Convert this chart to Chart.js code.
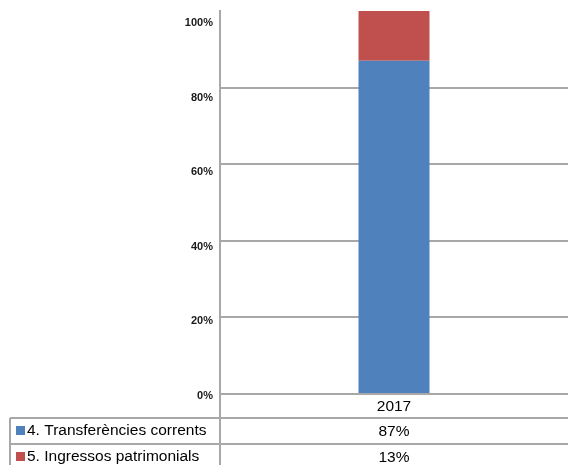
<!DOCTYPE html>
<html>
<head>
<meta charset="utf-8">
<script src="https://cdn.jsdelivr.net/npm/chart.js@4/dist/chart.umd.min.js"></script>
<style>
  html, body { margin: 0; padding: 0; background: #fff; }
  #wrap { width: 568px; height: 465px; }
</style>
</head>
<body>
<div id="wrap"><canvas id="ingressosChart" width="568" height="465"></canvas></div>
<script>
// years on the x axis
const years = ['2017'];
// share of income per chapter (%)
const transferencies = [87];
const patrimonials = [13];
const seriesNames = ['4. Transferències corrents', '5. Ingressos patrimonials'];
const yTicks = [0, 20, 40, 60, 80, 100];

const gridColor = '#a8a8a8';
const tableFont = '15.5px "Liberation Sans", Arial, sans-serif';

// data table under the plot: year header + one row per series with its colour key
const dataTable = {
  id: 'dataTable',
  afterDraw(chart) {
    const ctx = chart.ctx;
    const area = chart.chartArea;
    const xScale = chart.scales.x;
    const tableLeft = 10;
    const headerH = 24;
    const rowH = 26;
    const top = area.bottom;

    ctx.save();
    ctx.strokeStyle = gridColor;
    ctx.lineWidth = 2;
    ctx.font = tableFont;
    ctx.fillStyle = '#000';
    ctx.textBaseline = 'middle';

    // header row
    ctx.beginPath();
    ctx.moveTo(area.left, top);
    ctx.lineTo(area.right, top);
    ctx.moveTo(area.left, top);
    ctx.lineTo(area.left, chart.height);
    ctx.stroke();
    ctx.textAlign = 'center';
    chart.data.labels.forEach((lab, i) => {
      ctx.fillText(lab, xScale.getPixelForValue(i), top + headerH / 2 + 1);
    });

    chart.data.datasets.forEach((ds, r) => {
      const y0 = top + headerH + r * rowH;
      ctx.beginPath();
      ctx.moveTo(tableLeft, y0);
      ctx.lineTo(area.right, y0);
      ctx.moveTo(tableLeft, y0);
      ctx.lineTo(tableLeft, y0 + rowH);
      ctx.stroke();

      ctx.fillStyle = ds.backgroundColor;
      ctx.fillRect(16, y0 + rowH / 2 - 5, 9, 9);
      ctx.fillStyle = '#000';
      ctx.textAlign = 'left';
      ctx.fillText(ds.label, 27, y0 + rowH / 2);

      ctx.textAlign = 'center';
      ds.data.forEach((v, i) => {
        ctx.fillText(v + '%', xScale.getPixelForValue(i), y0 + rowH / 2 + 1);
      });
    });
    ctx.restore();
  }
};

new Chart(document.getElementById('ingressosChart'), {
  type: 'bar',
  data: {
    labels: years,
    datasets: [
      { label: seriesNames[0], data: transferencies, backgroundColor: '#4f81bd', yAxisID: 'y' },
      { label: seriesNames[1], data: patrimonials, backgroundColor: '#c0504d', yAxisID: 'y' }
    ]
  },
  options: {
    responsive: false,
    animation: false,
    layout: { padding: { top: 11, bottom: 71, left: 0, right: 0 } },
    categoryPercentage: 1,
    barPercentage: 0.204,
    plugins: {
      legend: { display: false },
      tooltip: { enabled: false }
    },
    scales: {
      x: {
        stacked: true,
        display: false
      },
      // outer axis only carries the percentage labels (slightly tighter spacing than the grid)
      yLabels: {
        position: 'left',
        weight: 1,
        min: -0.54,
        max: 102.14,
        afterFit(scale) {
          scale.width = 220;
          scale.paddingTop = 0;
          scale.paddingBottom = 0;
        },
        afterBuildTicks(scale) { scale.ticks = yTicks.map(v => ({ value: v })); },
        ticks: {
          padding: 7,
          labelOffset: 4,
          color: '#1a1a1a',
          font: { family: '"Liberation Sans", Arial, sans-serif', size: 11, weight: 'bold' },
          callback: v => v + '%'
        },
        grid: { display: false, drawTicks: false },
        border: { display: false }
      },
      y: {
        position: 'left',
        weight: 0,
        stacked: true,
        min: 0,
        max: 100,
        afterFit(scale) {
          scale.width = 0;
          scale.paddingTop = 0;
          scale.paddingBottom = 0;
        },
        afterBuildTicks(scale) { scale.ticks = yTicks.map(v => ({ value: v })); },
        ticks: { display: false },
        grid: {
          drawTicks: false,
          lineWidth: 2,
          color: c => (c.tick && c.tick.value === 100) ? 'rgba(0,0,0,0)' : gridColor
        },
        border: { color: gridColor, width: 2 }
      }
    }
  },
  plugins: [dataTable]
});
</script>
</body>
</html>
